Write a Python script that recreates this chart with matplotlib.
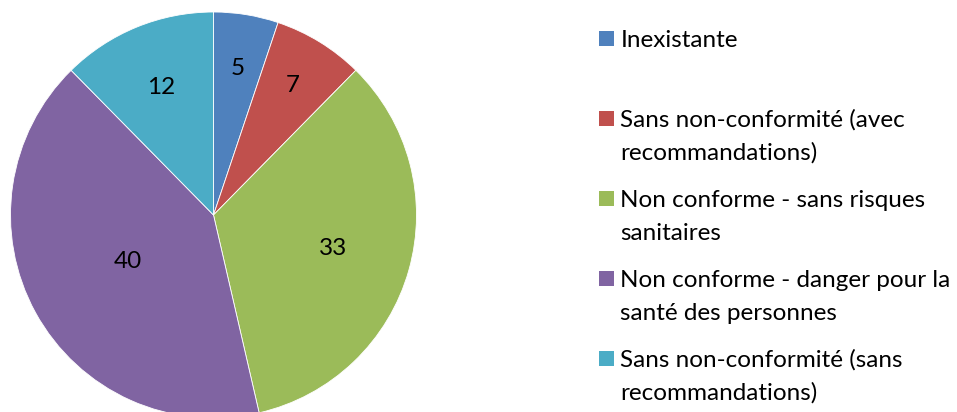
import matplotlib
matplotlib.use("Agg")
import numpy as np
import matplotlib.pyplot as plt
from matplotlib.patches import Rectangle

# Donnees
categories = [
    "Inexistante",
    "Sans non-conformité (avec\nrecommandations)",
    "Non conforme - sans risques\nsanitaires",
    "Non conforme - danger pour la\nsanté des personnes",
    "Sans non-conformité (sans\nrecommandations)",
]
values = [5, 7, 33, 40, 12]
colors = ["#4F81BD", "#C0504D", "#9BBB59", "#8064A2", "#4BACC6"]
label_dist = [0.73, 0.75, 0.61, 0.48, 0.68]

W, H = 957, 412
FS = 17.5
plt.rcParams['font.family'] = ['Lato', 'DejaVu Sans']

fig = plt.figure(figsize=(W / 100, H / 100), dpi=100)

# Camembert
cx, cy, r = 213.5, 197.0, 203.0
ax = fig.add_axes([(cx - r) / W, (cy - r) / H, 2 * r / W, 2 * r / H])
wedges, texts, autotexts = ax.pie(
    values, colors=colors, startangle=90, counterclock=False, radius=1,
    autopct=lambda p: f"{p * sum(values) / 100:.0f}", pctdistance=0.65,
    wedgeprops=dict(edgecolor="white", linewidth=0.6),
    textprops=dict(fontsize=FS, color="black"))
ax.set_xlim(-1, 1)
ax.set_ylim(-1, 1)
ax.set_aspect("equal")
ax.axis("off")

# Position des etiquettes
for w, t, d in zip(wedges, autotexts, label_dist):
    a = np.deg2rad((w.theta1 + w.theta2) / 2)
    t.set_position((d * np.cos(a), d * np.sin(a)))

# Legende
base0, step, line_h = 47, 80, 32.5
for i, (lab, c) in enumerate(zip(categories, colors)):
    base = base0 + i * step
    fig.patches.append(Rectangle((599 / W, 1 - (base - 1) / H), 15 / W, 15 / H,
                                 transform=fig.transFigure, facecolor=c,
                                 edgecolor="none"))
    for j, line in enumerate(lab.split("\n")):
        fig.text(620.5 / W, 1 - (base + j * line_h) / H, line, fontsize=FS,
                 va="baseline", ha="left", color="black")

fig.savefig("out.png", dpi=100)
